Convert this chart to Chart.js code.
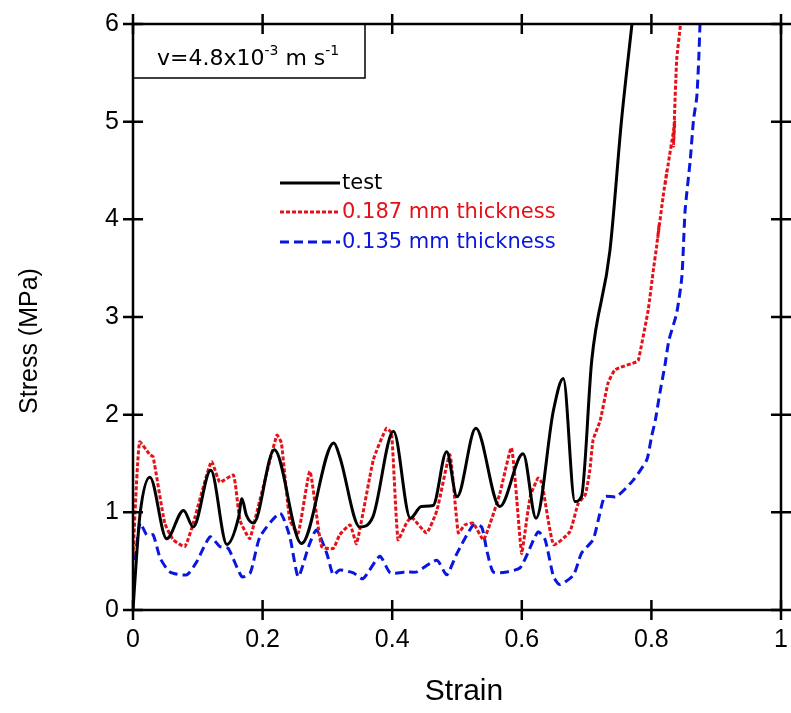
<!DOCTYPE html>
<html>
<head>
<meta charset="utf-8">
<script src="https://cdn.jsdelivr.net/npm/chart.js@4.4.1/dist/chart.umd.min.js"></script>
<style>
  html, body { margin: 0; padding: 0; background: #fff; }
  #wrap { width: 791px; height: 713px; }
</style>
</head>
<body>
<div id="wrap"><canvas id="stressChart" width="791" height="713"></canvas></div>
<script>
// values
const testStrain = [0, 0.005, 0.011, 0.026, 0.052, 0.078, 0.093, 0.12, 0.145, 0.163, 0.168, 0.175, 0.186, 0.218, 0.26, 0.31, 0.319, 0.35, 0.37, 0.402, 0.428, 0.445, 0.463, 0.484, 0.5, 0.529, 0.566, 0.602, 0.622, 0.649, 0.664, 0.682, 0.692, 0.708, 0.736, 0.754, 0.77];
const testStress = [0, 0.5, 0.99, 1.36, 0.73, 1.02, 0.85, 1.43, 0.67, 0.95, 1.14, 0.97, 0.89, 1.64, 0.68, 1.71, 1.57, 0.85, 0.95, 1.83, 0.94, 1.06, 1.07, 1.62, 1.16, 1.86, 1.06, 1.6, 0.94, 2.05, 2.37, 1.11, 1.16, 2.56, 3.68, 5.02, 6.0];

const thickStrain = [0, 0.01, 0.026, 0.031, 0.049, 0.062, 0.08, 0.093, 0.121, 0.134, 0.155, 0.165, 0.18, 0.188, 0.222, 0.229, 0.242, 0.255, 0.273, 0.291, 0.309, 0.319, 0.335, 0.345, 0.371, 0.391, 0.399, 0.409, 0.422, 0.43, 0.453, 0.469, 0.489, 0.502, 0.512, 0.525, 0.541, 0.566, 0.584, 0.597, 0.6, 0.613, 0.625, 0.631, 0.649, 0.674, 0.687, 0.698, 0.705, 0.71, 0.721, 0.733, 0.744, 0.777, 0.78, 0.795, 0.803, 0.808, 0.812, 0.81, 0.818, 0.824, 0.821, 0.826, 0.834, 0.836, 0.834, 0.839, 0.845];
const thickStress = [0.55, 1.72, 1.59, 1.57, 0.89, 0.72, 0.65, 0.89, 1.52, 1.31, 1.38, 0.92, 0.73, 0.92, 1.79, 1.71, 0.92, 0.79, 1.42, 0.65, 0.63, 0.77, 0.87, 0.68, 1.54, 1.86, 1.81, 0.72, 0.89, 0.95, 0.79, 1.02, 1.59, 0.79, 0.87, 0.89, 0.72, 1.19, 1.66, 0.75, 0.58, 1.16, 1.35, 1.3, 0.67, 0.8, 1.09, 1.18, 1.43, 1.74, 1.94, 2.32, 2.46, 2.54, 2.56, 3.07, 3.48, 3.72, 3.95, 3.82, 4.23, 4.5, 4.35, 4.57, 4.9, 5.0, 4.75, 5.63, 6.0];

const thinStrain = [0.003, 0.011, 0.021, 0.031, 0.042, 0.057, 0.083, 0.098, 0.119, 0.134, 0.147, 0.168, 0.181, 0.196, 0.227, 0.242, 0.255, 0.271, 0.283, 0.299, 0.309, 0.319, 0.34, 0.355, 0.381, 0.397, 0.422, 0.438, 0.469, 0.484, 0.5, 0.525, 0.538, 0.546, 0.556, 0.577, 0.597, 0.607, 0.625, 0.636, 0.649, 0.659, 0.68, 0.692, 0.71, 0.718, 0.728, 0.746, 0.772, 0.793, 0.8, 0.806, 0.813, 0.821, 0.827, 0.839, 0.847, 0.852, 0.86, 0.865, 0.87, 0.873, 0.875];
const thinStress = [0.51, 0.89, 0.77, 0.77, 0.53, 0.39, 0.36, 0.49, 0.75, 0.65, 0.63, 0.34, 0.38, 0.75, 0.99, 0.75, 0.34, 0.65, 0.82, 0.58, 0.36, 0.41, 0.38, 0.32, 0.55, 0.38, 0.39, 0.39, 0.51, 0.36, 0.58, 0.87, 0.85, 0.61, 0.39, 0.39, 0.43, 0.55, 0.8, 0.72, 0.34, 0.26, 0.36, 0.58, 0.72, 0.92, 1.16, 1.16, 1.33, 1.54, 1.77, 1.94, 2.22, 2.51, 2.76, 3.04, 3.41, 4.09, 4.61, 5.02, 5.25, 5.63, 6.0];

const seriesLabels = ["test", "0.187 mm thickness", "0.135 mm thickness"];
const xTicks = [0, 0.2, 0.4, 0.6, 0.8, 1];
const xTickLabels = ["0", "0.2", "0.4", "0.6", "0.8", "1"];
const yTicks = [0, 1, 2, 3, 4, 5, 6];

const RED = "rgb(228, 18, 24)";
const BLUE = "rgb(8, 22, 222)";

function toPoints(xs, ys) {
  return xs.map((x, i) => ({ x: x, y: ys[i] }));
}

// inside+outside tick marks, frame, velocity box, legend and axis titles
const framePlugin = {
  id: "frame",
  afterDraw(chart) {
    const { ctx, chartArea: a, scales } = chart;
    ctx.save();
    ctx.strokeStyle = "#000";
    ctx.lineWidth = 2.5;
    ctx.strokeRect(a.left, a.top, a.right - a.left, a.bottom - a.top);
    ctx.beginPath();
    xTicks.forEach((v) => {
      const px = scales.x.getPixelForValue(v);
      ctx.moveTo(px, a.bottom - 10); ctx.lineTo(px, a.bottom + 10);
      ctx.moveTo(px, a.top - 10); ctx.lineTo(px, a.top + 10);
    });
    yTicks.forEach((v) => {
      const py = scales.y.getPixelForValue(v);
      ctx.moveTo(a.left - 10, py); ctx.lineTo(a.left + 10, py);
      ctx.moveTo(a.right - 10, py); ctx.lineTo(a.right + 10, py);
    });
    ctx.stroke();

    // velocity box
    ctx.lineWidth = 1.5;
    ctx.strokeRect(a.left, a.top, 232, 54);
    ctx.fillStyle = "#000";
    ctx.textBaseline = "alphabetic";
    ctx.textAlign = "left";
    let tx = a.left + 24;
    const ty = a.top + 41;
    const parts = [["v=4.8x10", 22, 0], ["-3", 14, -10], [" m s", 22, 0], ["-1", 14, -10]];
    parts.forEach(([t, size, dy]) => {
      ctx.font = size + "px 'DejaVu Sans'";
      ctx.fillText(t, tx, ty + dy);
      tx += ctx.measureText(t).width;
    });

    // legend
    const rows = [183, 212, 242];
    ctx.font = "21px 'DejaVu Sans'";
    ctx.textBaseline = "middle";
    chart.data.datasets.forEach((ds, i) => {
      ctx.beginPath();
      ctx.strokeStyle = ds.borderColor;
      ctx.lineWidth = ds.borderWidth;
      ctx.setLineDash(ds.borderDash || []);
      ctx.moveTo(280, rows[i]); ctx.lineTo(340, rows[i]);
      ctx.stroke();
      ctx.setLineDash([]);
      ctx.fillStyle = ds.borderColor;
      ctx.fillText(ds.label, 342, rows[i] + 1);
    });

    // axis titles
    ctx.fillStyle = "#000";
    ctx.textAlign = "center";
    ctx.textBaseline = "middle";
    ctx.font = "30px 'Liberation Sans'";
    ctx.fillText("Strain", 464, 692);
    ctx.translate(30, 341);
    ctx.rotate(-Math.PI / 2);
    ctx.font = "25px 'Liberation Sans'";
    ctx.fillText("Stress (MPa)", 0, 0);
    ctx.restore();
  },
};

const ctx = document.getElementById("stressChart");
new Chart(ctx, {
  type: "line",
  data: {
    datasets: [
      {
        label: seriesLabels[0],
        data: toPoints(testStrain, testStress),
        borderColor: "#000",
        borderWidth: 3,
        cubicInterpolationMode: "monotone",
        pointRadius: 0,
      },
      {
        label: seriesLabels[1],
        data: toPoints(thickStrain, thickStress),
        borderColor: RED,
        borderWidth: 3,
        borderDash: [4, 2],
        tension: 0.15,
        pointRadius: 0,
      },
      {
        label: seriesLabels[2],
        data: toPoints(thinStrain, thinStress),
        borderColor: BLUE,
        borderWidth: 3,
        borderDash: [9, 5],
        tension: 0.2,
        pointRadius: 0,
      },
    ],
  },
  options: {
    responsive: false,
    animation: false,
    parsing: false,
    layout: { padding: { top: 24, right: 10, left: 0, bottom: 0 } },
    plugins: {
      legend: { display: false },
      tooltip: { enabled: false },
    },
    scales: {
      x: {
        type: "linear",
        min: 0,
        max: 1,
        afterFit: (s) => { s.height = 103; s.paddingRight = 0; },
        afterBuildTicks: (s) => { s.ticks = xTicks.map((v) => ({ value: v })); },
        grid: { display: false },
        border: { display: false },
        ticks: {
          padding: 7,
          color: "#000",
          font: { family: "'Liberation Sans'", size: 25 },
          maxRotation: 0,
          callback: (v, i) => xTickLabels[i],
        },
      },
      y: {
        type: "linear",
        min: 0,
        max: 6,
        afterFit: (s) => { s.width = 133; s.paddingTop = 0; s.paddingBottom = 0; },
        afterBuildTicks: (s) => { s.ticks = yTicks.map((v) => ({ value: v })); },
        grid: { display: false },
        border: { display: false },
        ticks: {
          padding: 6,
          color: "#000",
          font: { family: "'Liberation Sans'", size: 25 },
        },
      },
    },
  },
  plugins: [framePlugin],
});
</script>
</body>
</html>
